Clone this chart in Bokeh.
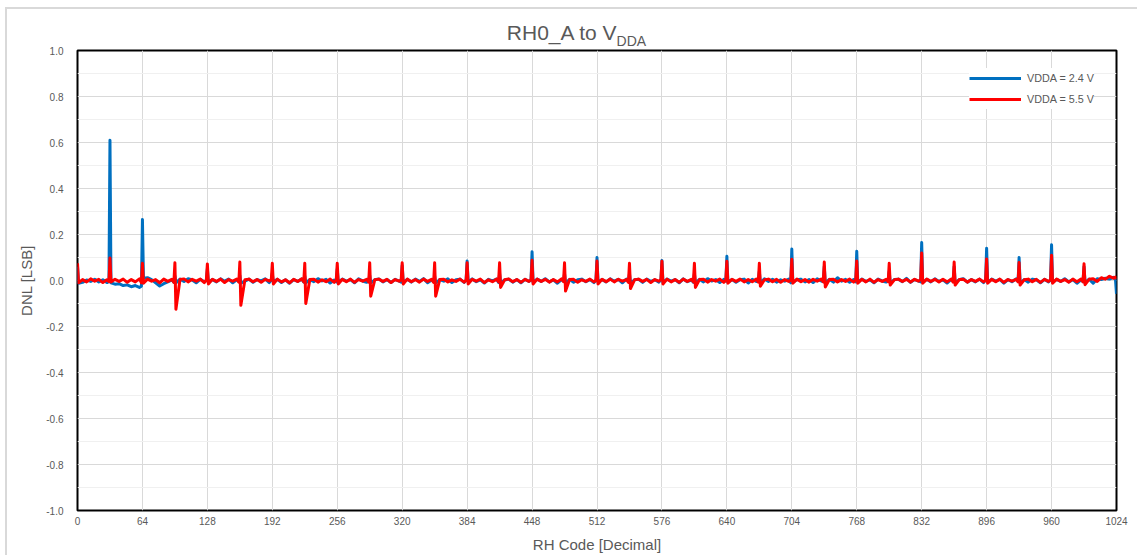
from bokeh.plotting import figure
from bokeh.models import FixedTicker, PrintfTickFormatter, Div
from bokeh.layouts import column
from bokeh.embed import file_html
from bokeh.resources import INLINE

# ---------------- data ----------------
# sample offsets inside each 32-code block (spike at offset 0)
BLOCK_OFFSETS = [0, 1, 5, 9, 13, 17, 21, 25, 29, 31]
BLOCK_STARTS = [0, 32, 64, 96, 128, 160, 192, 224, 256, 288, 320, 352, 384, 416, 448, 480,
                512, 544, 576, 608, 640, 672, 704, 736, 768, 800, 832, 864, 896, 928, 960, 992]
LAST_CODE = 1024

dnl_24_blocks = [
    [0.060, -0.012, -0.008, 0.002, -0.004, 0.005, -0.006, 0.003, -0.009, -0.004],
    [0.610, -0.010, -0.016, -0.014, -0.022, -0.019, -0.027, -0.022, -0.030, -0.025],
    [0.265, 0.010, 0.012, 0.004, -0.010, -0.024, -0.014, -0.006, 0.003, -0.008],
    [0.020, -0.010, 0.006, -0.004, 0.008, 0.002, -0.010, 0.005, -0.006, 0.000],
    [0.050, -0.008, 0.004, -0.006, 0.007, -0.003, 0.006, -0.010, 0.003, -0.004],
    [0.022, -0.012, -0.003, 0.006, -0.008, 0.004, -0.002, 0.007, -0.009, 0.002],
    [0.030, -0.006, 0.005, -0.009, 0.003, -0.012, 0.004, -0.004, 0.006, -0.007],
    [0.020, -0.010, 0.004, -0.005, 0.008, -0.002, 0.005, -0.011, 0.002, -0.006],
    [0.050, -0.007, 0.006, -0.003, 0.004, -0.010, 0.007, -0.002, -0.008, 0.003],
    [0.022, -0.011, 0.003, 0.007, -0.006, 0.004, -0.009, 0.005, -0.003, -0.007],
    [0.065, -0.008, 0.005, -0.007, 0.006, -0.004, 0.008, -0.010, 0.002, -0.005],
    [0.020, -0.012, 0.004, -0.003, 0.007, -0.009, 0.003, 0.006, -0.008, 0.001],
    [0.085, -0.006, 0.007, -0.005, 0.003, -0.011, 0.005, -0.002, 0.006, -0.009],
    [0.030, -0.010, 0.002, 0.006, -0.007, 0.004, -0.010, 0.005, -0.004, 0.003],
    [0.125, -0.008, 0.006, -0.004, 0.008, -0.006, 0.003, -0.012, 0.004, -0.003],
    [0.030, -0.011, 0.005, -0.008, 0.003, 0.006, -0.005, 0.004, -0.009, 0.002],
    [0.100, -0.007, 0.004, -0.006, 0.007, -0.003, 0.005, -0.010, 0.006, -0.004],
    [0.030, -0.012, 0.003, 0.005, -0.008, 0.006, -0.004, 0.003, -0.007, 0.004],
    [0.087, -0.008, 0.006, -0.003, 0.004, -0.010, 0.007, -0.005, 0.002, -0.008],
    [0.030, -0.010, 0.005, -0.006, 0.008, -0.002, 0.004, -0.009, 0.005, -0.003],
    [0.105, -0.006, 0.004, -0.008, 0.003, 0.006, -0.011, 0.005, -0.004, 0.002],
    [0.040, -0.011, 0.007, -0.004, 0.005, -0.007, 0.003, -0.003, 0.006, -0.010],
    [0.137, -0.008, 0.003, 0.006, -0.006, 0.004, -0.009, 0.007, -0.002, -0.005],
    [0.060, -0.010, 0.005, -0.007, 0.012, -0.003, 0.005, -0.008, 0.004, -0.006],
    [0.127, -0.007, 0.006, -0.004, 0.003, -0.010, 0.006, -0.002, -0.007, 0.003],
    [0.040, -0.011, 0.004, 0.006, -0.005, 0.009, -0.008, 0.004, -0.003, -0.006],
    [0.165, -0.008, 0.005, -0.006, 0.007, -0.004, 0.003, -0.011, 0.005, -0.002],
    [0.060, -0.010, 0.003, 0.008, -0.007, 0.004, -0.006, 0.006, -0.009, 0.003],
    [0.140, -0.007, 0.006, -0.003, 0.005, -0.012, 0.004, -0.005, 0.007, -0.004],
    [0.100, -0.011, 0.004, -0.007, 0.006, 0.003, -0.010, 0.005, -0.006, 0.002],
    [0.155, -0.008, 0.005, -0.004, 0.008, -0.006, 0.004, -0.012, 0.003, -0.005],
    [0.060, -0.010, 0.006, -0.012, 0.008, 0.004, 0.010, 0.006, 0.014, 0.004],
]
dnl_24_last = -0.058

dnl_55_blocks = [
    [0.075, -0.010, 0.004, -0.006, 0.007, -0.003, 0.005, -0.009, 0.003, -0.005],
    [0.098, -0.006, 0.005, -0.004, 0.006, -0.008, 0.004, -0.006, 0.007, -0.010],
    [0.075, -0.012, 0.006, -0.003, 0.004, -0.010, 0.006, -0.004, 0.005, -0.008],
    [0.077, -0.125, 0.004, 0.007, -0.006, 0.005, -0.003, 0.006, -0.009, 0.003],
    [0.072, -0.015, 0.005, -0.004, 0.006, -0.009, 0.004, -0.003, 0.006, -0.007],
    [0.080, -0.108, 0.003, 0.006, -0.005, 0.004, -0.008, 0.005, -0.002, 0.004],
    [0.075, -0.015, 0.006, -0.006, 0.003, -0.010, 0.005, -0.004, 0.007, -0.006],
    [0.075, -0.100, 0.004, 0.005, -0.007, 0.003, -0.005, 0.006, -0.008, 0.002],
    [0.075, -0.015, 0.005, -0.005, 0.006, -0.008, 0.004, -0.003, 0.005, -0.007],
    [0.077, -0.068, 0.003, 0.006, -0.004, 0.005, -0.009, 0.004, -0.003, 0.003],
    [0.077, -0.015, 0.006, -0.005, 0.004, -0.007, 0.006, -0.004, 0.005, -0.008],
    [0.077, -0.068, 0.004, 0.005, -0.006, 0.003, -0.004, 0.006, -0.007, 0.002],
    [0.077, -0.015, 0.005, -0.003, 0.006, -0.009, 0.003, -0.005, 0.006, -0.006],
    [0.077, -0.030, 0.003, 0.007, -0.005, 0.004, -0.008, 0.005, -0.004, 0.003],
    [0.088, -0.015, 0.006, -0.004, 0.005, -0.007, 0.004, -0.006, 0.007, -0.005],
    [0.077, -0.046, 0.004, 0.005, -0.008, 0.003, -0.004, 0.006, -0.006, 0.002],
    [0.085, -0.015, 0.005, -0.005, 0.006, -0.006, 0.005, -0.003, 0.004, -0.008],
    [0.075, -0.035, 0.003, 0.006, -0.004, 0.005, -0.009, 0.004, -0.003, 0.004],
    [0.084, -0.015, 0.006, -0.006, 0.004, -0.008, 0.006, -0.004, 0.005, -0.006],
    [0.075, -0.030, 0.004, 0.005, -0.007, 0.004, -0.003, 0.006, -0.008, 0.003],
    [0.084, -0.012, 0.005, -0.004, 0.006, -0.006, 0.004, -0.005, 0.006, -0.007],
    [0.075, -0.025, 0.003, 0.006, -0.005, 0.005, -0.008, 0.004, -0.004, 0.002],
    [0.092, -0.012, 0.006, -0.005, 0.004, -0.007, 0.005, -0.003, 0.006, -0.006],
    [0.080, -0.028, 0.004, 0.005, -0.006, 0.004, -0.004, 0.006, -0.007, 0.003],
    [0.085, -0.012, 0.005, -0.006, 0.006, -0.008, 0.004, -0.004, 0.005, -0.005],
    [0.075, -0.020, 0.003, 0.006, -0.004, 0.005, -0.007, 0.005, -0.003, 0.004],
    [0.120, -0.012, 0.006, -0.004, 0.005, -0.006, 0.005, -0.006, 0.006, -0.007],
    [0.080, -0.020, 0.004, 0.005, -0.007, 0.004, -0.004, 0.006, -0.006, 0.002],
    [0.094, -0.012, 0.005, -0.005, 0.006, -0.008, 0.004, -0.003, 0.005, -0.006],
    [0.078, -0.020, 0.003, 0.006, -0.005, 0.005, -0.008, 0.005, -0.004, 0.003],
    [0.110, -0.012, 0.006, -0.004, 0.004, -0.007, 0.006, -0.005, 0.006, -0.006],
    [0.073, -0.018, 0.005, 0.008, -0.004, 0.012, 0.006, 0.018, 0.010, 0.015],
]
dnl_55_last = 0.006

series_labels = ["VDDA = 2.4 V", "VDDA = 5.5 V"]
series_colors = ["#0070C0", "#FF0000"]

x_ticks = [0, 64, 128, 192, 256, 320, 384, 448, 512, 576, 640, 704, 768, 832, 896, 960, 1024]
y_ticks = [-1.0, -0.8, -0.6, -0.4, -0.2, 0.0, 0.2, 0.4, 0.6, 0.8, 1.0]
y_minor = [-0.9, -0.7, -0.5, -0.3, -0.1, 0.1, 0.3, 0.5, 0.7, 0.9]

# flatten
codes = [s + o for s in BLOCK_STARTS for o in BLOCK_OFFSETS] + [LAST_CODE]
dnl_24 = [v for row in dnl_24_blocks for v in row] + [dnl_24_last]
dnl_55 = [v for row in dnl_55_blocks for v in row] + [dnl_55_last]

FONT = "Liberation Sans"
GRAY = "#595959"

title = Div(
    text=('<div style="width:1137px;box-sizing:border-box;padding-left:16px;padding-top:21px;'
          'text-align:center;font-family:\'Liberation Sans\';font-size:21px;line-height:24px;'
          'color:#595959;white-space:nowrap;">RH0_A to V<sub style="font-size:14px;'
          'vertical-align:-6px;line-height:0;">DDA</sub></div>'),
    width=1137, height=45, margin=0,
)

p = figure(width=1137, height=510, x_range=(0, 1024), y_range=(-1, 1),
           output_backend="svg", toolbar_location=None, margin=0,
           min_border_left=77, min_border_right=21, min_border_top=5, min_border_bottom=43)

p.outline_line_color = "black"
p.outline_line_width = 2
p.background_fill_color = "white"
p.border_fill_alpha = 0.0

p.xaxis.ticker = FixedTicker(ticks=x_ticks)
p.yaxis.ticker = FixedTicker(ticks=y_ticks, minor_ticks=y_minor)
p.yaxis.formatter = PrintfTickFormatter(format="%.1f")

p.xgrid.grid_line_color = "#d9d9d9"
p.ygrid.grid_line_color = "#d9d9d9"
p.ygrid.minor_grid_line_color = "#f0f0f0"

for ax in (p.xaxis[0], p.yaxis[0]):
    ax.axis_line_color = None
    ax.major_tick_line_color = None
    ax.minor_tick_line_color = None
    ax.major_tick_out = 0
    ax.major_tick_in = 0
    ax.major_label_text_font = FONT
    ax.major_label_text_font_size = "10px"
    ax.major_label_text_color = GRAY
    ax.axis_label_text_font = FONT
    ax.axis_label_text_font_size = "15px"
    ax.axis_label_text_font_style = "normal"
    ax.axis_label_text_color = GRAY

p.xaxis.axis_label = "RH Code [Decimal]"
p.yaxis.axis_label = "DNL [LSB]"
p.xaxis.major_label_standoff = 6
p.yaxis.major_label_standoff = 10
p.xaxis.axis_label_standoff = 8
p.yaxis.axis_label_standoff = 8

p.line(codes, dnl_24, line_color=series_colors[0], line_width=3, line_join="round",
       legend_label=series_labels[0])
p.line(codes, dnl_55, line_color=series_colors[1], line_width=3, line_join="round",
       legend_label=series_labels[1])

leg = p.legend[0]
leg.location = (892, 401)
leg.margin = 0
leg.padding = 8
leg.spacing = 1
leg.glyph_width = 52
leg.glyph_height = 20
leg.label_height = 20
leg.label_standoff = 6
leg.label_text_font = FONT
leg.label_text_font_size = "10.8px"
leg.label_text_color = GRAY
leg.border_line_color = None
leg.background_fill_color = "white"
leg.background_fill_alpha = 1.0

layout = column(title, p, spacing=0, margin=0)
layout.styles = {
    "background": ("linear-gradient(#d9d9d9, #d9d9d9) 5px 7px / 2px 100% no-repeat, "
                   "linear-gradient(#d9d9d9, #d9d9d9) 5px 7px / 100% 2px no-repeat, white"),
}

open("out.html", "w").write(file_html(layout, INLINE))
